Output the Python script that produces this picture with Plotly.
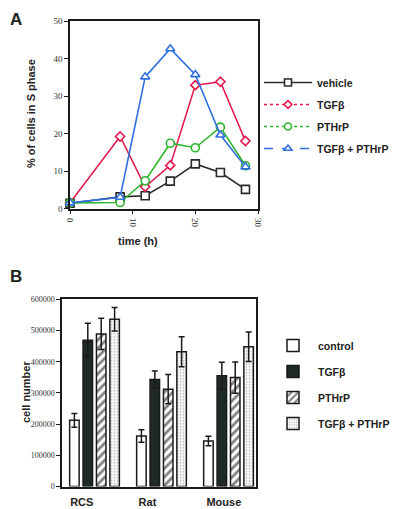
import plotly.graph_objects as go

# ---- Panel A data ----
time_h = [0, 8, 12, 16, 20, 24, 28]
vehicle = [1.4, 3.1, 3.4, 7.3, 11.9, 9.6, 5.1]
tgfb = [1.5, 19.2, 5.8, 11.5, 32.9, 33.8, 18.0]
pthrp = [1.5, 1.6, 7.4, 17.4, 16.2, 21.7, 11.4]
combo_time = [0, 8, 12, 16, 20, 24, 28]
combo = [1.5, 3.0, 35.1, 42.6, 35.7, 19.6, 11.1]
series_a_names = ["vehicle", "TGFβ", "PTHrP", "TGFβ + PTHrP"]

# ---- Panel B data ----
cell_lines = ["RCS", "Rat", "Mouse"]
group_pos = [0, 1, 2]
label_pos = [-0.19, 0.79, 1.93]
control = [212000, 162000, 146000]
control_err = [22000, 20000, 15000]
tgfb_b = [469000, 343000, 355000]
tgfb_b_err = [54000, 27000, 43000]
pthrp_b = [489000, 312000, 349000]
pthrp_b_err = [50000, 47000, 50000]
combo_b = [536000, 432000, 448000]
combo_b_err = [38000, 48000, 47000]
series_b_names = ["control", "TGFβ", "PTHrP", "TGFβ + PTHrP"]

# page body has an 8px margin: the figure is drawn at (8, 8)
OFF = 8
W, H = 400 - OFF, 509 - OFF
def px(x):
    return (x - OFF) / W
def py(y):
    return 1 - (y - OFF) / H

SANS = "Liberation Sans, Arial, sans-serif"
SERIF = "Liberation Serif, Times New Roman, serif"
TXT = "#222222"

fig = go.Figure()

colors_a = ["#2b2b2b", "#e3194b", "#2db52d", "#2f6fe0"]
symbols_a = ["square", "diamond", "circle", "triangle-up"]
sizes_a = [8, 7, 8, 8]
dashes_a = ["solid", "dot", "dot", "dash"]
xs_a = [time_h, time_h, time_h, combo_time]
ys_a = [vehicle, tgfb, pthrp, combo]

for i in range(4):
    fig.add_trace(go.Scatter(
        x=xs_a[i], y=ys_a[i], mode="lines+markers", name=series_a_names[i],
        line=dict(color=colors_a[i], width=1.6),
        marker=dict(symbol=symbols_a[i], size=sizes_a[i],
                    color="white", line=dict(color=colors_a[i], width=1.6)),
        showlegend=False, xaxis="x", yaxis="y", cliponaxis=False,
    ))
for i in range(4):
    fig.add_trace(go.Scatter(
        x=[None], y=[None], mode="lines+markers", name="<b>%s</b>" % series_a_names[i],
        line=dict(color=colors_a[i], width=1.4, dash=dashes_a[i]),
        marker=dict(symbol=symbols_a[i], size=sizes_a[i] - 1,
                    color="white", line=dict(color=colors_a[i], width=1.6)),
        showlegend=True, legend="legend", legendgroup="a%d" % i,
        xaxis="x", yaxis="y",
    ))

# Panel B bars
vals_b = [control, tgfb_b, pthrp_b, combo_b]
errs_b = [control_err, tgfb_b_err, pthrp_b_err, combo_b_err]
fills = [
    dict(color="white", pattern=None),
    dict(color="#1f2a24", pattern=None),
    dict(color="white", pattern=dict(shape="/", fgcolor="black", bgcolor="white", size=6, solidity=0.45)),
    dict(color="#f4f4f4", pattern=dict(shape=".", fgcolor="#666666", bgcolor="#f7f7f7", size=3, solidity=0.2)),
]
for i in range(4):
    m = dict(color=fills[i]["color"], line=dict(color="#1a1a1a", width=1.5))
    if fills[i]["pattern"]:
        m["pattern"] = fills[i]["pattern"]
    fig.add_trace(go.Bar(
        x=group_pos, y=vals_b[i], name="<b>%s</b>" % series_b_names[i], marker=m,
        error_y=dict(type="data", array=errs_b[i], visible=True, color="#1a1a1a",
                     thickness=1.5, width=3),
        xaxis="x2", yaxis="y2", legend="legend2", legendgroup="b%d" % i,
    ))

axis_common = dict(showline=True, linecolor="#1a1a1a", linewidth=1.5, mirror=True,
                   showgrid=False, zeroline=False, ticks="outside", ticklen=4,
                   tickcolor="#1a1a1a", tickwidth=1.3)

def ann(text, x, y, size=11, angle=0):
    return dict(text=text, x=px(x), y=py(y), xref="paper", yref="paper",
                xanchor="center", yanchor="middle", textangle=angle,
                showarrow=False, font=dict(family=SANS, size=size, color=TXT))

fig.update_layout(
    width=W, height=H,
    margin=dict(l=0, r=0, t=0, b=0, autoexpand=False),
    plot_bgcolor="white", paper_bgcolor="white",
    barmode="group", bargap=0.2, bargroupgap=0.29,
    xaxis=dict(domain=[px(70), px(258)], range=[0, 30], tickvals=[0, 10, 20, 30],
               tickangle=90, anchor="y", ticklabelstandoff=2,
               tickfont=dict(family=SERIF, size=9, color="#333"), **axis_common),
    yaxis=dict(domain=[py(208.5), py(21)], range=[0, 50], tickvals=[0, 10, 20, 30, 40, 50],
               anchor="x", tickfont=dict(family=SERIF, size=9, color="#333"), **axis_common),
    xaxis2=dict(domain=[px(62), px(256)], range=[-0.485, 2.41], tickvals=label_pos,
                ticktext=["<b>%s</b>" % c for c in cell_lines], anchor="y2",
                tickfont=dict(family=SANS, size=11, color=TXT), ticklabelstandoff=5,
                showline=True, linecolor="#1a1a1a", linewidth=1.5, mirror=True,
                showgrid=False, zeroline=False, ticks=""),
    yaxis2=dict(domain=[py(486.5), py(299.3)], range=[0, 600000],
                tickvals=[0, 100000, 200000, 300000, 400000, 500000, 600000],
                tickformat="d", anchor="x2",
                tickfont=dict(family=SERIF, size=8, color="#333"), **axis_common),
    legend=dict(x=px(259), y=py(68), xanchor="left", yanchor="top",
                font=dict(family=SANS, size=10.5, color=TXT), itemwidth=48,
                tracegroupgap=3, traceorder="grouped", bgcolor="rgba(0,0,0,0)"),
    legend2=dict(x=px(268), y=py(331), xanchor="left", yanchor="top",
                 font=dict(family=SANS, size=10.5, color=TXT), itemwidth=40,
                 tracegroupgap=7, traceorder="grouped", bgcolor="rgba(0,0,0,0)"),
    annotations=[
        ann("<b>A</b>", 16, 20, size=17),
        ann("<b>B</b>", 16, 276, size=17),
        ann("<b>% of cells in S phase</b>", 31, 114, angle=-90),
        ann("<b>time (h)</b>", 138, 241),
        ann("<b>cell number</b>", 26, 392, angle=-90),
    ],
)

fig.write_html("out.html")
